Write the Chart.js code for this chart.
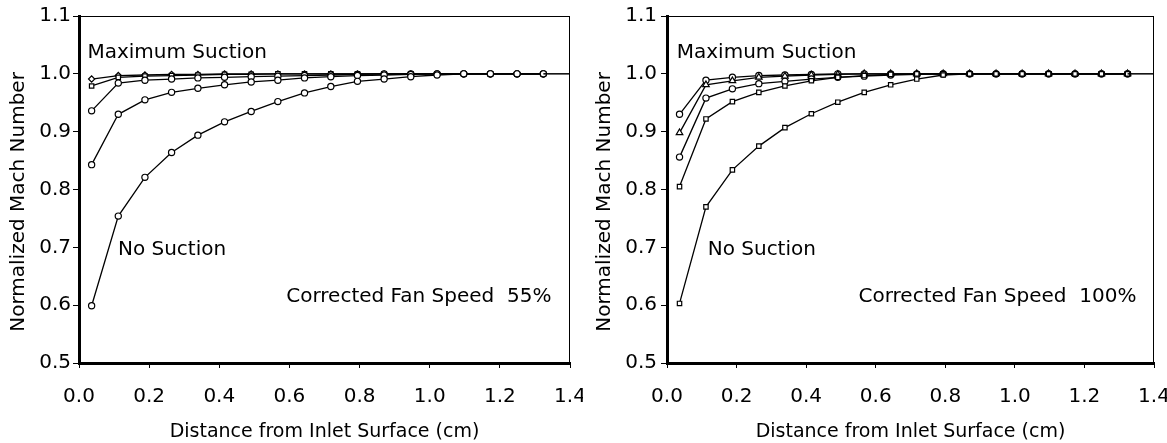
<!DOCTYPE html>
<html>
<head>
<meta charset="utf-8">
<script src="https://cdn.jsdelivr.net/npm/chart.js@4.4.1/dist/chart.umd.min.js"></script>
<style>
  html, body { margin: 0; padding: 0; background: #fff; overflow: hidden; }
  #wrap { position: relative; width: 1167px; height: 443px; }
  .box { position: absolute; top: 0; height: 443px; }
  #b1 { left: 0; width: 583px; }
  #b2 { left: 583px; width: 584px; }
</style>
</head>
<body>
<div id="wrap">
  <div class="box" id="b1"><canvas id="c1"></canvas></div>
  <div class="box" id="b2"><canvas id="c2"></canvas></div>
</div>
<script>
// ---- data ----
const xPositions = [0.036, 0.112, 0.188, 0.264, 0.339, 0.415, 0.491, 0.567, 0.643, 0.718, 0.794, 0.870, 0.946, 1.021, 1.097, 1.173, 1.249, 1.324];
const xTicks = [0.0, 0.2, 0.4, 0.6, 0.8, 1.0, 1.2, 1.4];
const yTicks = [0.5, 0.6, 0.7, 0.8, 0.9, 1.0, 1.1];

// Left chart: Corrected Fan Speed 55%
const left55_noSuction = [0.599, 0.754, 0.821, 0.864, 0.894, 0.917, 0.935, 0.952, 0.967, 0.978, 0.987, 0.991, 0.995, 0.998, 1.0, 1.0, 1.0, 1.0];
const left55_low       = [0.843, 0.930, 0.955, 0.968, 0.975, 0.981, 0.986, 0.989, 0.993, 0.995, 0.997, 0.998, 0.999, 1.0, 1.0, 1.0, 1.0, 1.0];
const left55_mid       = [0.936, 0.984, 0.989, 0.991, 0.993, 0.994, 0.995, 0.996, 0.997, 0.998, 0.999, 1.0, 1.0, 1.0, 1.0, 1.0, 1.0, 1.0];
const left55_high      = [0.979, 0.994, 0.996, 0.997, 0.998, 0.999, 0.999, 1.0, 1.0, 1.0, 1.0, 1.0, 1.0, 1.0, 1.0, 1.0, 1.0, 1.0];
const left55_maxSuction= [0.991, 0.997, 0.998, 0.999, 0.999, 1.0, 1.0, 1.0, 1.0, 1.0, 1.0, 1.0, 1.0, 1.0, 1.0, 1.0, 1.0, 1.0];

// Right chart: Corrected Fan Speed 100%
const right100_noSuction = [0.603, 0.770, 0.834, 0.875, 0.907, 0.931, 0.951, 0.968, 0.981, 0.991, 0.998, 1.0, 1.0, 1.0, 1.0, 1.0, 1.0, 1.0];
const right100_low       = [0.805, 0.922, 0.952, 0.968, 0.979, 0.988, 0.994, 0.997, 0.999, 1.0, 1.0, 1.0, 1.0, 1.0, 1.0, 1.0, 1.0, 1.0];
const right100_mid       = [0.856, 0.958, 0.974, 0.983, 0.987, 0.991, 0.994, 0.996, 0.998, 0.999, 1.0, 1.0, 1.0, 1.0, 1.0, 1.0, 1.0, 1.0];
const right100_high      = [0.898, 0.981, 0.988, 0.994, 0.996, 0.998, 0.999, 1.0, 1.0, 1.0, 1.0, 1.0, 1.0, 1.0, 1.0, 1.0, 1.0, 1.0];
const right100_maxSuction= [0.930, 0.989, 0.994, 0.997, 0.998, 0.999, 1.0, 1.0, 1.0, 1.0, 1.0, 1.0, 1.0, 1.0, 1.0, 1.0, 1.0, 1.0];

// Line at 1.0 running on to the right edge
const refLineX = [1.324, 1.4];
const refLineY = [1.0, 1.0];

// Text
const yTitle = "Normalized Mach Number";
const xTitle = "Distance from Inlet Surface (cm)";
const labelMax = "Maximum Suction";
const labelNo = "No Suction";
const caption55 = "Corrected Fan Speed  55%";
const caption100 = "Corrected Fan Speed  100%";

// ---- build ----
const FONT = "'DejaVu Sans', Verdana, sans-serif";

function pts(xs, ys) { return xs.map((x, i) => ({ x: x, y: ys[i] })); }

function series(ys, style) {
  return {
    data: pts(xPositions, ys),
    borderColor: '#000',
    borderWidth: 1.3,
    pointStyle: style,
    pointRadius: style === 'triangle' ? 3.8 : 3.1,
    pointBorderWidth: 1.2,
    pointBackgroundColor: '#fff',
    pointBorderColor: '#000',
    fill: false,
    tension: 0
  };
}

function refLine() {
  return {
    data: pts(refLineX, refLineY),
    borderColor: '#000',
    borderWidth: 1.5,
    pointRadius: 0,
    fill: false
  };
}

function makeChart(id, sets, texts, opt) {
  const annot = {
    id: 'annot',
    afterDatasetsDraw(chart) {
      const ctx = chart.ctx, xs = chart.scales.x, ys = chart.scales.y, a = chart.chartArea;
      ctx.save();
      // thin frame on top and right
      ctx.strokeStyle = '#000';
      ctx.lineWidth = 1;
      ctx.strokeRect(a.left + 0.5, a.top + 0.5, a.right - a.left - 1, a.bottom - a.top);
      ctx.fillStyle = '#000';
      ctx.font = '20px ' + FONT;
      ctx.textBaseline = 'middle';
      texts.forEach(t => {
        ctx.textAlign = t.align;
        ctx.fillText(t.text, xs.getPixelForValue(t.x), ys.getPixelForValue(t.y));
      });
      // vertical axis title, centred at a chosen data level
      ctx.save();
      ctx.translate(opt.yTitleX, ys.getPixelForValue(opt.yTitleMid));
      ctx.rotate(-Math.PI / 2);
      ctx.textAlign = 'center';
      ctx.textBaseline = 'middle';
      ctx.font = '20px ' + FONT;
      ctx.fillText(yTitle, 0, 0);
      ctx.restore();
      ctx.restore();
    }
  };
  return new Chart(document.getElementById(id), {
    type: 'line',
    data: { datasets: sets },
    options: {
      responsive: true,
      maintainAspectRatio: false,
      animation: false,
      events: [],
      layout: { padding: { left: 0, right: opt.rightPad, top: 16, bottom: 0 } },
      plugins: { legend: { display: false }, tooltip: { enabled: false } },
      scales: {
        x: {
          type: 'linear',
          min: 0, max: 1.4,
          afterBuildTicks(s) { s.ticks = xTicks.map(v => ({ value: v })); },
          afterFit(s) { s.height = 80; s.paddingLeft = 0; s.paddingRight = 0; },
          ticks: {
            color: '#000',
            font: { family: FONT, size: 20 },
            padding: 17,
            maxRotation: 0,
            callback: v => Number(v).toFixed(1)
          },
          grid: { drawOnChartArea: false, drawTicks: true, tickLength: 5, color: '#000' },
          border: { display: true, color: '#000', width: 3 },
          title: {
            display: true, text: xTitle, color: '#000',
            font: { family: FONT, size: 19 },
            padding: { top: 0, bottom: 0 }
          }
        },
        y: {
          type: 'linear',
          min: 0.5, max: 1.1,
          afterBuildTicks(s) { s.ticks = yTicks.map(v => ({ value: v })); },
          afterFit(s) { s.width = opt.areaLeft; s.paddingTop = 0; s.paddingBottom = 0; },
          ticks: {
            color: '#000',
            font: { family: FONT, size: 20 },
            padding: opt.yTickPad,
            callback: v => Number(v).toFixed(1)
          },
          grid: { drawOnChartArea: false, drawTicks: true, tickLength: 6, color: '#000' },
          border: { display: true, color: '#000', width: 3 },
          title: { display: false }
        }
      }
    },
    plugins: [annot]
  });
}

makeChart('c1', [
  refLine(),
  series(left55_noSuction, 'circle'),
  series(left55_low, 'circle'),
  series(left55_mid, 'circle'),
  series(left55_high, 'rect'),
  series(left55_maxSuction, 'rectRot')
], [
  { text: labelMax, x: 0.024, y: 1.036, align: 'left' },
  { text: labelNo, x: 0.111, y: 0.695, align: 'left' },
  { text: caption55, x: 0.969, y: 0.614, align: 'center' }
], { areaLeft: 79, rightPad: 13, yTickPad: 2, yTitleX: 19, yTitleMid: 0.7785 });

makeChart('c2', [
  refLine(),
  series(right100_noSuction, 'rect'),
  series(right100_low, 'rect'),
  series(right100_mid, 'circle'),
  series(right100_high, 'triangle'),
  series(right100_maxSuction, 'circle')
], [
  { text: labelMax, x: 0.028, y: 1.036, align: 'left' },
  { text: labelNo, x: 0.117, y: 0.695, align: 'left' },
  { text: caption100, x: 0.95, y: 0.614, align: 'center' }
], { areaLeft: 84, rightPad: 13, yTickPad: 4, yTitleX: 22, yTitleMid: 0.7785 });
</script>
</body>
</html>
